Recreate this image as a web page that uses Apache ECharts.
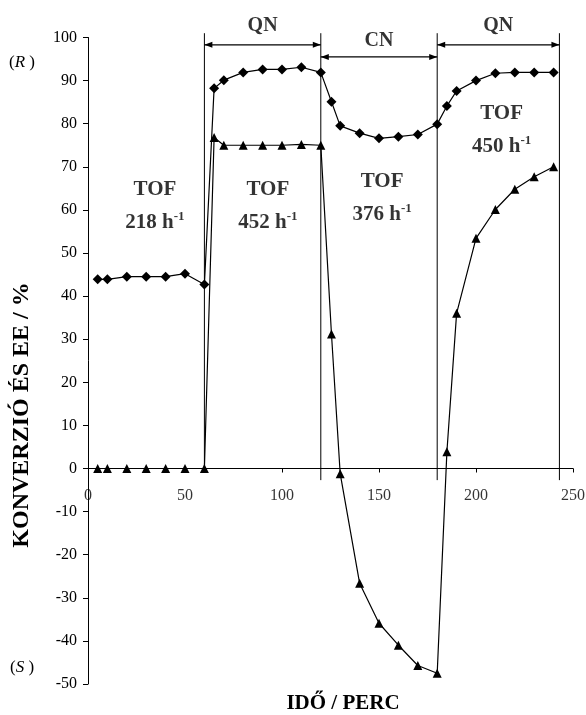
<!DOCTYPE html>
<html>
<head>
<meta charset="utf-8">
<script src="https://cdn.jsdelivr.net/npm/echarts@6/dist/echarts.min.js"></script>
<style>
  html, body { margin: 0; padding: 0; background: #fff; }
  #chart { width: 586px; height: 715px; }
</style>
</head>
<body>
<div id="chart"></div>
<script>
// Sampling times (min)
const times = [5, 10, 20, 30, 40, 50, 60, 65, 70, 80, 90, 100, 110, 120, 125.5, 130, 140, 150, 160, 170, 180, 185, 190, 200, 210, 220, 230, 240];
// Conversion (%)
const conversion = [43.9, 43.9, 44.5, 44.5, 44.5, 45.2, 42.7, 88.2, 90.1, 91.9, 92.6, 92.6, 93.1, 91.9, 85.1, 79.5, 77.8, 76.6, 77.0, 77.5, 79.9, 84.1, 87.6, 90.0, 91.7, 91.9, 91.9, 91.9];
// Enantiomeric excess (%), positive = (R), negative = (S)
const ee = [0, 0, 0, 0, 0, 0, 0, 76.8, 75.0, 75.0, 75.0, 75.0, 75.2, 75.0, 31.2, -1.2, -26.6, -35.9, -41.0, -45.7, -47.5, 3.9, 36.0, 53.4, 60.1, 64.8, 67.7, 70.0];
// Modifier switching times (min) and the modifier used in each period
const phaseBounds = [60, 120, 180, 243];
const phaseModes = ['QN', 'CN', 'QN'];
// Turnover frequencies of the four periods (h^-1)
const tofValues = [218, 452, 376, 450];
// Time axis tick labels, written under the zero line
const timeTicks = [0, 50, 100, 150, 200, 250];

const FONT = '"Liberation Serif", "Times New Roman", serif';

// Placement of the annotations (data units)
const boundTop = 101;
const boundBottom = [0, -2.7, -2.7, -2.7];
const arrowLevel = [98.3, 95.5, 98.3];
const modeLabelLevel = [102.7, 99.3, 102.7];
const tofAnchor = [[34.5, 60.8], [92.7, 60.8], [151.6, 62.7], [213.2, 78.5]];

const pairs = (ys) => times.map((t, i) => [t, ys[i]]);

const series = [];

// period boundaries
phaseBounds.forEach((b, i) => {
  series.push({
    type: 'line', clip: false, silent: true, symbol: 'none', z: 1,
    lineStyle: { color: '#000', width: 1 },
    data: [[b, boundTop], [b, boundBottom[i]]]
  });
});

// double-headed arrows spanning each period
phaseModes.forEach((m, i) => {
  const y = arrowLevel[i];
  series.push({
    type: 'line', clip: false, silent: true, z: 2,
    lineStyle: { color: '#000', width: 1.3 },
    itemStyle: { color: '#000' },
    symbol: 'triangle', symbolSize: [6, 8], showSymbol: true,
    data: [
      { value: [phaseBounds[i], y], symbolRotate: 90, symbolOffset: [4, 0] },
      { value: [phaseBounds[i + 1], y], symbolRotate: -90, symbolOffset: [-4, 0] }
    ]
  });
});

// data series
series.push({
  name: 'konverzió', type: 'line', z: 5,
  data: pairs(conversion),
  symbol: 'diamond', symbolSize: [10, 10], showSymbol: true,
  lineStyle: { color: '#000', width: 1.2 },
  itemStyle: { color: '#000' }
});
series.push({
  name: 'EE', type: 'line', z: 5,
  data: pairs(ee),
  symbol: 'triangle', symbolSize: [9, 9], showSymbol: true,
  lineStyle: { color: '#000', width: 1.2 },
  itemStyle: { color: '#000' }
});

// period names above the arrows
series.push({
  type: 'scatter', clip: false, silent: true, symbolSize: 0, z: 6,
  data: phaseModes.map((m, i) => ({
    value: [(phaseBounds[i] + phaseBounds[i + 1]) / 2, modeLabelLevel[i]],
    label: { formatter: m }
  })),
  label: {
    show: true, position: 'inside', color: '#000',
    fontFamily: FONT, fontWeight: 'bold', fontSize: 20
  }
});

// TOF labels
series.push({
  type: 'scatter', clip: false, silent: true, symbolSize: 0, z: 6,
  data: tofValues.map((v, i) => ({
    value: tofAnchor[i],
    label: { formatter: '{t|TOF}\n{n|' + v + ' h}{s|-1}' }
  })),
  label: {
    show: true, position: 'inside', color: '#000', align: 'center',
    rich: {
      t: { fontFamily: FONT, fontWeight: 'bold', fontSize: 21, lineHeight: 33, color: '#000', align: 'center' },
      n: { fontFamily: FONT, fontWeight: 'bold', fontSize: 21, lineHeight: 33, color: '#000' },
      s: { fontFamily: FONT, fontWeight: 'bold', fontSize: 13, lineHeight: 33, color: '#000', padding: [0, 0, 12, 0] }
    }
  }
});

// time tick labels following the zero line
series.push({
  type: 'scatter', clip: false, silent: true, symbolSize: 0, z: 6,
  data: timeTicks.map((t) => ({ value: [t, 0], label: { formatter: String(t) } })),
  label: {
    show: true, position: 'inside', offset: [0, 27],
    color: '#000', fontFamily: FONT, fontSize: 16
  }
});

const chart = echarts.init(document.getElementById('chart'), null, { renderer: 'canvas' });
chart.setOption({
  animation: false,
  backgroundColor: '#fff',
  grid: { left: 88, right: 13, top: 37.5, bottom: 31, containLabel: false },
  xAxis: {
    type: 'value', min: 0, max: 250, interval: 50,
    axisLine: { show: true, onZero: true, lineStyle: { color: '#000', width: 1 } },
    axisTick: { show: true, inside: false, length: 4, lineStyle: { color: '#000' } },
    axisLabel: { show: false },
    splitLine: { show: false }
  },
  yAxis: {
    type: 'value', min: -50, max: 100, interval: 10,
    axisLine: { show: true, lineStyle: { color: '#000', width: 1 } },
    axisTick: { show: true, inside: false, length: 5, lineStyle: { color: '#000' } },
    axisLabel: { color: '#000', fontFamily: FONT, fontSize: 16, margin: 11 },
    splitLine: { show: false }
  },
  graphic: [
    {
      type: 'text', x: 22, y: 415, rotation: Math.PI / 2,
      style: { text: 'KONVERZIÓ ÉS EE / %', fontFamily: FONT, fontWeight: 'bold', fontSize: 24, fill: '#000', align: 'center', verticalAlign: 'middle' }
    },
    {
      type: 'text', x: 343, y: 704,
      style: { text: 'IDŐ / PERC', fontFamily: FONT, fontWeight: 'bold', fontSize: 21, fill: '#000', align: 'center', verticalAlign: 'middle' }
    },
    {
      type: 'text', x: 22, y: 63,
      style: {
        text: '{p|(}{i|R}{p| )}', align: 'center', verticalAlign: 'middle',
        rich: { p: { fontFamily: FONT, fontSize: 17, fill: '#000' }, i: { fontFamily: FONT, fontStyle: 'italic', fontSize: 17, fill: '#000' } }
      }
    },
    {
      type: 'text', x: 22, y: 668,
      style: {
        text: '{p|(}{i|S}{p| )}', align: 'center', verticalAlign: 'middle',
        rich: { p: { fontFamily: FONT, fontSize: 17, fill: '#000' }, i: { fontFamily: FONT, fontStyle: 'italic', fontSize: 17, fill: '#000' } }
      }
    }
  ],
  series: series
});
</script>
</body>
</html>
